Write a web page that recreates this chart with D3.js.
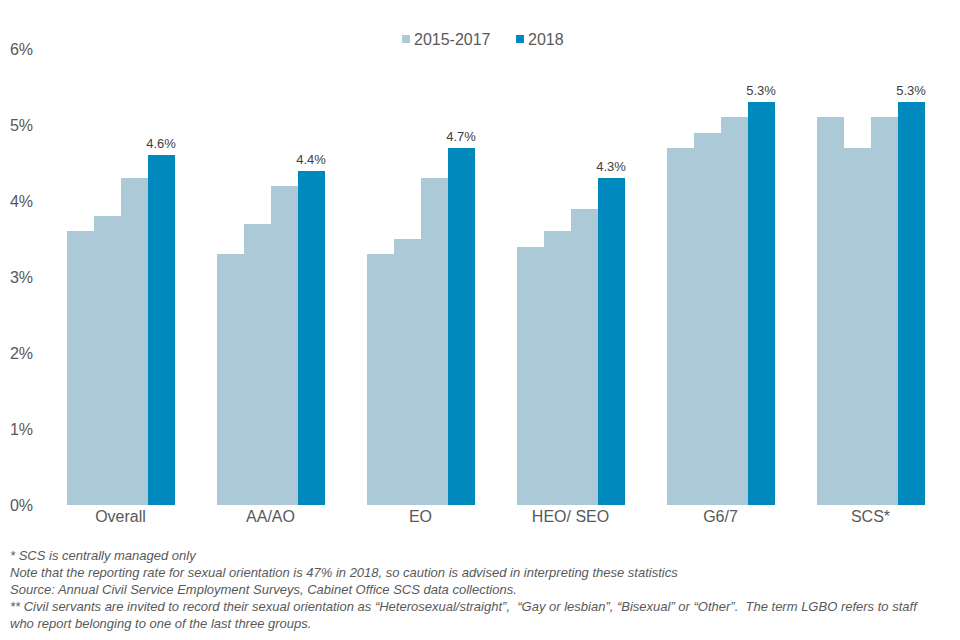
<!DOCTYPE html>
<html>
<head>
<meta charset="utf-8">
<script src="https://cdn.jsdelivr.net/npm/d3@7"></script>
<style>
    body { margin: 0; background: #fff; }
    svg { display: block; font-family: 'Liberation Sans', Arial, sans-serif; }
</style>
</head>
<body>
<div id="chart"></div>
<script>
// categories on the x-axis
const categories = ['Overall', 'AA/AO', 'EO', 'HEO/ SEO', 'G6/7', 'SCS*'];
const years = ['2015', '2016', '2017', '2018'];

// % of staff, one array per year
const v2015 = [3.6, 3.3, 3.3, 3.4, 4.7, 5.1];
const v2016 = [3.8, 3.7, 3.5, 3.6, 4.9, 4.7];
const v2017 = [4.3, 4.2, 4.3, 3.9, 5.1, 5.1];
const v2018 = [4.6, 4.4, 4.7, 4.3, 5.3, 5.3];

const yTicks = [0, 1, 2, 3, 4, 5, 6];
const legendLabels = ['2015-2017', '2018'];

const footnotes = [
    '* SCS is centrally managed only',
    'Note that the reporting rate for sexual orientation is 47% in 2018, so caution is advised in interpreting these statistics',
    'Source: Annual Civil Service Employment Surveys, Cabinet Office SCS data collections.',
    '** Civil servants are invited to record their sexual orientation as \u201cHeterosexual/straight\u201d,  \u201cGay or lesbian\u201d, \u201cBisexual\u201d or \u201cOther\u201d.  The term LGBO refers to staff',
    'who report belonging to one of the last three groups.'
];

const LIGHT = '#abc9d6';
const DARK = '#0089bd';
const TEXT = '#595959';

const plotData = () => {
    const width = 960;
    const height = 640;
    const svg = d3.select('#chart').append('svg')
        .attr('width', width)
        .attr('height', height);

    const seriesByYear = { 2015: v2015, 2016: v2016, 2017: v2017, 2018: v2018 };
    const data = categories.map((c, i) => ({
        category: c,
        values: years.map((y) => ({ year: y, value: seriesByYear[y][i] }))
    }));

    // group scale
    const x0 = d3.scaleBand()
        .domain(categories)
        .range([45.5, 945.5])
        .paddingInner(0.28)
        .paddingOuter(0.14);

    // bar scale inside a group, bars touch each other
    const x1 = d3.scaleBand()
        .domain(years)
        .range([0, x0.bandwidth()]);

    const y = d3.scaleLinear()
        .domain([0, 6])
        .range([505, 49]);

    // y-axis, labels only
    const yAxis = d3.axisLeft(y)
        .tickValues(yTicks)
        .tickSize(0)
        .tickPadding(0)
        .tickFormat((d) => d + '%');
    const gy = svg.append('g')
        .attr('transform', 'translate(33, 0)')
        .call(yAxis);
    gy.select('.domain').remove();
    gy.selectAll('text')
        .style('font-size', '16px')
        .style('font-family', "'Liberation Sans', Arial, sans-serif")
        .attr('fill', TEXT);

    // x-axis, labels only
    const xAxis = d3.axisBottom(x0).tickSize(0).tickPadding(0);
    const gx = svg.append('g')
        .attr('transform', 'translate(0, 511)')
        .call(xAxis);
    gx.select('.domain').remove();
    gx.selectAll('text')
        .style('font-size', '16px')
        .style('font-family', "'Liberation Sans', Arial, sans-serif")
        .attr('fill', TEXT);

    // bars
    const groups = svg.selectAll('g.group')
        .data(data)
        .enter()
        .append('g')
        .attr('class', 'group')
        .attr('transform', (d) => `translate(${x0(d.category)}, 0)`);

    groups.selectAll('rect')
        .data((d) => d.values)
        .enter()
        .append('rect')
        .attr('x', (d) => x1(d.year))
        .attr('y', (d) => y(d.value))
        .attr('width', x1.bandwidth())
        .attr('height', (d) => y(0) - y(d.value))
        .attr('shape-rendering', 'crispEdges')
        .attr('fill', (d) => (d.year === '2018' ? DARK : LIGHT));

    // labels on the 2018 bars
    groups.append('text')
        .attr('x', x1('2018') + x1.bandwidth() / 2)
        .attr('y', (d) => y(d.values[3].value) - 7)
        .attr('text-anchor', 'middle')
        .style('font-size', '13px')
        .attr('fill', '#404040')
        .text((d) => d3.format('.1f')(d.values[3].value) + '%');

    // legend
    const legend = svg.append('g');
    const legendX = [402, 516];
    legendLabels.forEach((label, i) => {
        legend.append('rect')
            .attr('x', legendX[i])
            .attr('y', 35)
            .attr('width', 8)
            .attr('height', 8)
            .attr('fill', i === 0 ? LIGHT : DARK);
        legend.append('text')
            .attr('x', legendX[i] + 12)
            .attr('y', 45)
            .style('font-size', '16px')
            .attr('fill', TEXT)
            .text(label);
    });

    // footnotes
    svg.selectAll('text.note')
        .data(footnotes)
        .enter()
        .append('text')
        .attr('class', 'note')
        .attr('x', 10)
        .attr('y', (d, i) => 560 + i * 17)
        .style('font-size', '13px')
        .style('font-style', 'italic')
        .style('white-space', 'pre')
        .attr('fill', TEXT)
        .text((d) => d);
};

plotData();
</script>
</body>
</html>
